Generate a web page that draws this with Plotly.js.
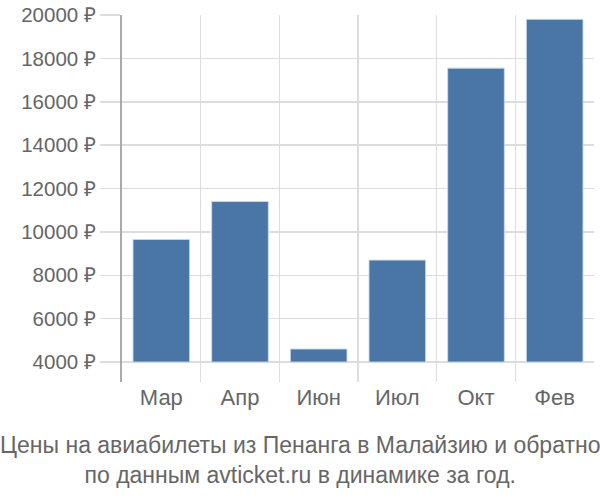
<!DOCTYPE html>
<html>
<head>
<meta charset="utf-8">
<script src="https://cdn.plot.ly/plotly-3.0.1.min.js"></script>
<style>html,body{margin:0;padding:0;background:#fff}#chart{width:600px;height:500px}</style>
</head>
<body>
<div id="chart"></div>
<script>
const months = ["Мар", "Апр", "Июн", "Июл", "Окт", "Фев"];
const prices = [9650, 11400, 4600, 8700, 17550, 19800];
const yTicks = [4000, 6000, 8000, 10000, 12000, 14000, 16000, 18000, 20000];
const titleLines = ["Цены на авиабилеты из Пенанга в Малайзию и обратно", "по данным avticket.ru в динамике за год."];
const baseValue = 4000;

const trace = {
  type: "bar",
  x: months,
  y: prices.map(v => v - baseValue),
  base: baseValue,
  marker: {color: "#4a76a6", line: {color: "rgba(200,215,235,0.9)", width: 1}},
  width: 0.72,
  hoverinfo: "none"
};

const layout = {
  width: 600, height: 500,
  margin: {l: 122, r: 6, t: 14.5, b: 118.3},
  paper_bgcolor: "#fff", plot_bgcolor: "#fff",
  showlegend: false,
  font: {family: "Liberation Sans, Arial, sans-serif", color: "#666"},
  xaxis: {
    type: "category",
    tickson: "boundaries",
    showgrid: true, gridcolor: "#dddddd", gridwidth: 1.5,
    ticks: "", ticklen: 0,
    showline: false, zeroline: false,
    tickfont: {size: 22, color: "#666"},
    range: [-0.5, 5.5]
  },
  yaxis: {
    range: [3080, 20000],
    tickvals: yTicks,
    ticktext: yTicks.map(v => v + " ₽"),
    showgrid: true, gridcolor: "#dddddd", gridwidth: 1.5,
    ticks: "outside", ticklen: 20, tickcolor: "#dddddd", tickwidth: 1.5,
    showline: true, linecolor: "#aaaaaa", linewidth: 2,
    zeroline: false,
    tickfont: {size: 20.5, color: "#666"}
  },
  annotations: [{
    text: titleLines.join("<br>"),
    xref: "paper", yref: "paper",
    x: 0.5, xanchor: "center",
    y: -0.2, yanchor: "top",
    showarrow: false,
    font: {size: 23, color: "#666"}
  }]
};
layout.annotations[0].x = (300 - 122) / (600 - 122 - 6);
layout.annotations[0].y = (381.7 - 430) / (500 - 14.5 - 118.3);

Plotly.newPlot("chart", [trace], layout, {staticPlot: true, displayModeBar: false});
</script>
</body>
</html>
